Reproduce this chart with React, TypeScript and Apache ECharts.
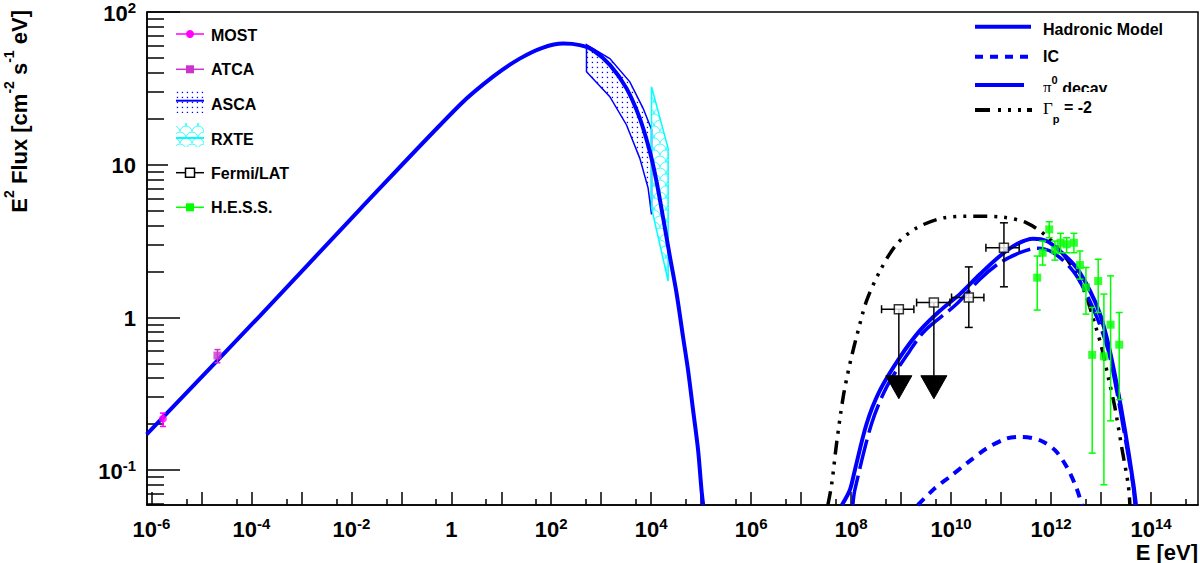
import React, { useEffect, useRef } from 'react';
import * as echarts from 'echarts';

// ---------------- axis ranges & ticks ----------------
const xMin = 8.17e-7;
const xMax = 8.7e14;
const yMin = 0.059;
const yMax = 100;

const xMajorTicks = [1e-6, 1e-5, 1e-4, 1e-3, 1e-2, 1e-1, 1, 10, 1e2, 1e3, 1e4, 1e5, 1e6, 1e7, 1e8, 1e9, 1e10, 1e11, 1e12, 1e13, 1e14];
const xLabelTicks = [1e-6, 1e-4, 1e-2, 1, 1e2, 1e4, 1e6, 1e8, 1e10, 1e12, 1e14];
const xMinorTicks = [5e-6, 5e-5, 5e-4, 5e-3, 5e-2, 5e-1, 5, 50, 5e2, 5e3, 5e4, 5e5, 5e6, 5e7, 5e8, 5e9, 5e10, 5e11, 5e12, 5e13, 5e14];
const yMajorTicks = [0.1, 1, 10, 100];
const yMinorTicks = [0.06, 0.07, 0.08, 0.09, 0.2, 0.3, 0.4, 0.5, 0.6, 0.7, 0.8, 0.9, 2, 3, 4, 5, 6, 7, 8, 9, 20, 30, 40, 50, 60, 70, 80, 90];

// ---------------- model curves ----------------
const synE = [8.05e-7, 1.47e-4, 1.47e-2, 1.48, 6.85, 23.4, 68.7, 173, 372, 687, 1503, 3206, 5916, 9376, 1.276e4, 1.73e4, 2.355e4, 3.206e4, 4.345e4, 5.47e4, 6.89e4, 8.67e4, 1.014e5, 1.096e5];
const synF = [0.171, 1.02, 5.08, 24.6, 37.7, 49.5, 58.5, 62.1, 60.7, 56.2, 44.9, 31.6, 20.1, 12.2, 7.78, 4.49, 2.52, 1.445, 0.74, 0.449, 0.246, 0.135, 0.074, 0.059];

const hadE = [6.52e7, 9.42e7, 1.186e8, 2.04e8, 3.76e8, 9.44e8, 2.37e9, 5.96e9, 1.5e10, 3.77e10, 9.46e10, 2.04e11, 4.4e11, 8.15e11, 1.503e12, 3.24e12, 6.0e12, 9.51e12, 1.393e13, 2.05e13, 3.01e13, 4.41e13, 4.99e13];
const hadF = [0.059, 0.074, 0.0998, 0.201, 0.332, 0.547, 0.818, 1.104, 1.419, 1.914, 2.52, 3.01, 3.27, 3.16, 2.72, 2.11, 1.493, 1.052, 0.67, 0.367, 0.182, 0.0818, 0.059];

const pi0E = [1.081e8, 1.186e8, 2.56e8, 5.12e8, 1.496e9, 2.99e9, 1.288e10, 3.77e10, 9.46e10, 2.38e11, 5.13e11, 1.104e12, 2.77e12, 5.14e12, 8.77e12, 1.393e13, 2.05e13, 3.01e13, 4.41e13, 4.79e13];
const pi0F = [0.059, 0.074, 0.201, 0.349, 0.605, 0.818, 1.222, 1.778, 2.28, 2.65, 2.83, 2.65, 2.01, 1.419, 0.951, 0.605, 0.332, 0.165, 0.0778, 0.059];

const icE = [2.16e9, 4.73e9, 9.44e9, 2.04e10, 5.13e10, 1.288e11, 2.57e11, 5.98e11, 1.194e12, 2.05e12, 3.24e12, 4.14e12];
const icF = [0.059, 0.0759, 0.0904, 0.1104, 0.1384, 0.1607, 0.1648, 0.1567, 0.1349, 0.105, 0.0759, 0.059];

const gamE = [3.42e7, 4.06e7, 5.11e7, 6.92e7, 9.42e7, 1.38e8, 2.04e8, 3.76e8, 8.11e8, 2.04e9, 6.95e9, 2.77e10, 1.102e11, 3.24e11, 8.15e11, 1.75e12, 3.24e12, 5.14e12, 7.53e12, 1.026e13, 1.39e13, 1.888e13, 2.58e13, 3.5e13, 3.78e13];
const gamF = [0.059, 0.0798, 0.149, 0.3, 0.495, 0.818, 1.285, 2.01, 3.01, 3.85, 4.48, 4.6, 4.53, 4.16, 3.4, 2.59, 1.91, 1.35, 0.904, 0.637, 0.406, 0.258, 0.1416, 0.0798, 0.059];

// ---------------- X-ray bands ----------------
const ascaUpE = [507, 1486, 3733, 6887, 1.014e4];
const ascaUpF = [61.2, 49.5, 34.9, 23.4, 17.0];
const ascaLoE = [507, 1486, 3206, 5916, 8670, 1.014e4];
const ascaLoF = [40.6, 27.9, 18.2, 11.0, 7.03, 4.72];

const rxteUpE = [1.014e4, 2.18e4];
const rxteUpF = [32.4, 12.8];
const rxteLoE = [1.014e4, 2.18e4];
const rxteLoF = [5.2, 1.73];

// ---------------- data points ----------------
const mostE = [1.7e-6];
const mostF = [0.217];
const mostLo = [0.193];
const mostHi = [0.236];

const atcaE = [2.1e-5];
const atcaF = [0.562];
const atcaLo = [0.504];
const atcaHi = [0.615];

const fermiE = [2.26e10, 1.14e11];
const fermiF = [1.35, 2.86];
const fermiElo = [1.02e10, 4.97e10];
const fermiEhi = [4.53e10, 2.3e11];
const fermiFlo = [0.859, 1.585];
const fermiFhi = [2.14, 4.16];

const fermiUlE = [9.0e8, 4.52e9];
const fermiUlF = [1.13, 1.25];
const fermiUlElo = [4.06e8, 2.04e9];
const fermiUlEhi = [1.8e9, 9.46e9];
const fermiUlTip = [0.293, 0.293];

const hessE = [5.28e11, 6.78e11, 9.18e11, 1.194e12, 1.552e12, 2.05e12, 2.86e12, 3.78e12, 4.98e12, 6.65e12, 8.77e12, 1.14e13, 1.552e13, 2.31e13];
const hessF = [1.82, 2.65, 3.77, 2.75, 3.08, 3.01, 3.08, 2.2, 1.57, 0.568, 1.73, 0.556, 0.895, 0.662];
const hessLo = [1.116, 2.2, 3.32, 2.37, 2.65, 2.65, 2.65, 1.78, 1.05, 0.129, 1.076, 0.08, 0.21, 0.289];
const hessHi = [2.52, 3.16, 4.23, 3.16, 3.55, 3.32, 3.55, 2.72, 2.12, 1.16, 2.4, 1.42, 1.87, 1.076];

// ---------------- styles ----------------
const FONT = 'Liberation Sans';
const BLUE = '#0000ff';
const MAGENTA = '#ff00ff';
const PURPLE = '#cc33cc';
const CYAN = '#00ffff';
const GREEN = '#00ff00';

const dotTile =
  'data:image/svg+xml;charset=utf-8,' +
  encodeURIComponent('<svg xmlns="http://www.w3.org/2000/svg" width="5" height="5"><rect x="1.8" y="1.8" width="1.3" height="1.3" fill="#0000ff"/></svg>');
const scaleTile =
  'data:image/svg+xml;charset=utf-8,' +
  encodeURIComponent('<svg xmlns="http://www.w3.org/2000/svg" width="12" height="12"><path d="M0,12 A6,6 0 0 1 12,12 M-6,6 A6,6 0 0 1 6,6 M6,6 A6,6 0 0 1 18,6" fill="none" stroke="#00ffff" stroke-width="0.8"/></svg>');
const dotPattern: any = { image: dotTile, repeat: 'repeat', imageWidth: 5, imageHeight: 5 };
const scalePattern: any = { image: scaleTile, repeat: 'repeat', imageWidth: 12, imageHeight: 12 };

const pair = (xs: number[], ys: number[]) => xs.map((x, i) => [x, ys[i]]);

const fmtPow = (v: number) => {
  const p = Math.round(Math.log10(v));
  if (p === 0) return '{b|1}';
  if (p === 1) return '{b|10}';
  return '{b|10}{s|' + p + '}';
};

const axisRich = {
  b: { fontSize: 22, fontWeight: 'bold', fontFamily: FONT, color: '#000', lineHeight: 24, verticalAlign: 'bottom' },
  s: { fontSize: 15, fontWeight: 'bold', fontFamily: FONT, color: '#000', lineHeight: 12, verticalAlign: 'top' },
};

const bandRender = (upE: number[], upF: number[], loE: number[], loF: number[], fill: any, stroke: string) =>
  (params: any, api: any) => {
    if (params.dataIndex !== 0) return { type: 'group', children: [] };
    const up = upE.map((e, i) => api.coord([e, upF[i]]));
    const lo = loE.map((e, i) => api.coord([e, loF[i]])).reverse();
    return {
      type: 'polygon',
      shape: { points: up.concat(lo) },
      style: { fill, stroke, lineWidth: 1.5 },
    };
  };

const vErrRender = (color: string, cap: number) => (params: any, api: any) => {
  const e = api.value(0);
  const lo = api.coord([e, api.value(2)]);
  const hi = api.coord([e, api.value(3)]);
  const st = { stroke: color, lineWidth: 1.5, fill: 'none' };
  return {
    type: 'group',
    children: [
      { type: 'line', shape: { x1: lo[0], y1: lo[1], x2: hi[0], y2: hi[1] }, style: st },
      { type: 'line', shape: { x1: lo[0] - cap, y1: lo[1], x2: lo[0] + cap, y2: lo[1] }, style: st },
      { type: 'line', shape: { x1: hi[0] - cap, y1: hi[1], x2: hi[0] + cap, y2: hi[1] }, style: st },
    ],
  };
};

const xErrChildren = (api: any, f: number, elo: number, ehi: number, cap: number, st: any) => {
  const a = api.coord([elo, f]);
  const b = api.coord([ehi, f]);
  return [
    { type: 'line', shape: { x1: a[0], y1: a[1], x2: b[0], y2: b[1] }, style: st },
    { type: 'line', shape: { x1: a[0], y1: a[1] - cap, x2: a[0], y2: a[1] + cap }, style: st },
    { type: 'line', shape: { x1: b[0], y1: b[1] - cap, x2: b[0], y2: b[1] + cap }, style: st },
  ];
};

const fermiRender = (params: any, api: any) => {
  const e = api.value(0);
  const f = api.value(1);
  const st = { stroke: '#000', lineWidth: 1.5, fill: 'none' };
  const lo = api.coord([e, api.value(4)]);
  const hi = api.coord([e, api.value(5)]);
  return {
    type: 'group',
    children: [
      ...xErrChildren(api, f, api.value(2), api.value(3), 4, st),
      { type: 'line', shape: { x1: lo[0], y1: lo[1], x2: hi[0], y2: hi[1] }, style: st },
      { type: 'line', shape: { x1: lo[0] - 4, y1: lo[1], x2: lo[0] + 4, y2: lo[1] }, style: st },
      { type: 'line', shape: { x1: hi[0] - 4, y1: hi[1], x2: hi[0] + 4, y2: hi[1] }, style: st },
    ],
  };
};

const fermiUlRender = (params: any, api: any) => {
  const e = api.value(0);
  const f = api.value(1);
  const st = { stroke: '#000', lineWidth: 1.5, fill: 'none' };
  const c = api.coord([e, f]);
  const tip = api.coord([e, api.value(4)]);
  const headH = 23;
  const headW = 13;
  return {
    type: 'group',
    children: [
      ...xErrChildren(api, f, api.value(2), api.value(3), 4, st),
      { type: 'line', shape: { x1: c[0], y1: c[1], x2: tip[0], y2: tip[1] - headH }, style: st },
      {
        type: 'polygon',
        shape: { points: [[tip[0] - headW, tip[1] - headH], [tip[0] + headW, tip[1] - headH], [tip[0], tip[1]]] },
        style: { fill: '#000', stroke: '#000', lineWidth: 1 },
      },
    ],
  };
};

// ---------------- legend (graphic) ----------------
const legendRich: any = {
  a: { fontSize: 16, fontWeight: 'bold', fontFamily: FONT, fill: '#000', lineHeight: 22, verticalAlign: 'bottom' },
  g: { fontSize: 17, fontFamily: 'Liberation Serif', fill: '#000', lineHeight: 22, verticalAlign: 'bottom' },
  s: { fontSize: 11, fontWeight: 'bold', fontFamily: FONT, fill: '#000', lineHeight: 12, verticalAlign: 'top' },
  ta: { fontSize: 16, fontWeight: 'bold', fontFamily: FONT, fill: '#000', lineHeight: 16, verticalAlign: 'top' },
  tg: { fontSize: 17, fontFamily: 'Liberation Serif', fill: '#000', lineHeight: 16, verticalAlign: 'top' },
  sub: { fontSize: 11, fontWeight: 'bold', fontFamily: FONT, fill: '#000', lineHeight: 25, verticalAlign: 'bottom' },
};

const legText = (x: number, y: number, text: string, rich = false) => ({
  type: 'text',
  x,
  y,
  z: 120,
  style: rich
    ? { text, align: 'left', verticalAlign: 'middle', rich: legendRich }
    : { text, align: 'left', verticalAlign: 'middle', fontSize: 16, fontWeight: 'bold', fontFamily: FONT, fill: '#000' },
});
const legLine = (x1: number, x2: number, y: number, stroke: string, lineWidth: number, lineDash?: number[]) => ({
  type: 'line',
  z: 120,
  shape: { x1, y1: y, x2, y2: y },
  style: { stroke, lineWidth, lineDash: lineDash || null },
});

const graphicEls: any[] = [
  // white legend box (covers the long ticks like the original)
  { type: 'rect', z: 110, shape: { x: 168, y: 14, width: 140, height: 209 }, style: { fill: '#fff' } },
  // left legend
  legLine(176, 204, 34, MAGENTA, 1.5),
  { type: 'circle', z: 121, shape: { cx: 190, cy: 34, r: 4 }, style: { fill: MAGENTA } },
  legText(211, 35, 'MOST'),
  legLine(176, 204, 69.3, PURPLE, 1.5),
  { type: 'rect', z: 121, shape: { x: 186, y: 65.3, width: 8, height: 8 }, style: { fill: PURPLE } },
  legText(211, 69.5, 'ATCA'),
  { type: 'rect', z: 120, shape: { x: 176, y: 90, width: 28, height: 23 }, style: { fill: dotPattern } },
  legLine(176, 204, 100.7, BLUE, 2),
  legText(211, 104, 'ASCA'),
  { type: 'rect', z: 120, shape: { x: 176, y: 123, width: 28, height: 24 }, style: { fill: scalePattern } },
  legLine(176, 204, 138, CYAN, 2),
  legText(211, 139, 'RXTE'),
  legLine(176, 204, 172.7, '#000', 1.5),
  { type: 'rect', z: 121, shape: { x: 185.5, y: 168.2, width: 9, height: 9 }, style: { fill: '#fff', stroke: '#000', lineWidth: 1.5 } },
  legText(211, 173, 'Fermi/LAT'),
  legLine(176, 204, 207.3, GREEN, 1.5),
  { type: 'rect', z: 121, shape: { x: 186, y: 203.3, width: 8, height: 8 }, style: { fill: GREEN } },
  legText(211, 207.5, 'H.E.S.S.'),
  // right legend
  legLine(975, 1031, 26.7, BLUE, 4),
  legText(1043, 29, 'Hadronic Model'),
  legLine(975, 1031, 56.7, BLUE, 4, [8, 7]),
  legText(1043, 56.7, 'IC'),
  legLine(975, 1024, 85, BLUE, 4),
  legText(1043, 85, '{g|π}{s|0}{a| decay}', true),
  { type: 'rect', z: 125, shape: { x: 960, y: 92, width: 236, height: 36 }, style: { fill: '#fff' } },
  { ...legLine(975, 1032, 110, '#000', 4, [15, 8, 3, 7, 3, 7, 3, 6]), z: 126 },
  { ...legText(1043, 112, '{tg|Γ}{sub|p}{ta| = -2}', true), z: 126 },
  // axis titles
  {
    type: 'text',
    x: 16,
    y: 10,
    rotation: Math.PI / 2,
    z: 120,
    style: {
      text: '{b|E}{s|2}{b| Flux [cm}{s|-2}{b| s}{s|-1}{b| eV]}',
      align: 'right',
      verticalAlign: 'middle',
      rich: {
        b: { fontSize: 22, fontWeight: 'bold', fontFamily: FONT, fill: '#000', lineHeight: 28, verticalAlign: 'bottom' },
        s: { fontSize: 14, fontWeight: 'bold', fontFamily: FONT, fill: '#000', lineHeight: 16, verticalAlign: 'top' },
      },
    },
  },
  {
    type: 'text',
    x: 1198,
    y: 552,
    z: 120,
    style: { text: 'E [eV]', align: 'right', verticalAlign: 'middle', fontSize: 22, lineHeight: 20, fontWeight: 'bold', fontFamily: FONT, fill: '#000' },
  },
];

const option: any = {
  animation: false,
  backgroundColor: '#fff',
  textStyle: { fontFamily: FONT },
  grid: { left: 147, top: 10, width: 1051, height: 495, show: true, borderColor: '#000', borderWidth: 1.5, backgroundColor: 'transparent' },
  xAxis: [
    {
      type: 'log',
      logBase: 10,
      min: xMin,
      max: xMax,
      position: 'bottom',
      axisLine: { show: true, lineStyle: { color: '#000', width: 1.5 } },
      axisTick: { show: true, inside: true, length: 13, lineStyle: { color: '#000', width: 1.5 }, customValues: xMajorTicks },
      axisLabel: { show: true, margin: 11, customValues: xLabelTicks, formatter: fmtPow, rich: axisRich },
      splitLine: { show: false },
      minorTick: { show: false },
    },
    {
      type: 'log',
      logBase: 10,
      min: xMin,
      max: xMax,
      position: 'bottom',
      axisLine: { show: false },
      axisTick: { show: true, inside: true, length: 6, lineStyle: { color: '#000', width: 1.5 }, customValues: xMinorTicks },
      axisLabel: { show: false },
      splitLine: { show: false },
    },
  ],
  yAxis: [
    {
      type: 'log',
      logBase: 10,
      min: yMin,
      max: yMax,
      position: 'left',
      axisLine: { show: true, lineStyle: { color: '#000', width: 1.5 } },
      axisTick: { show: true, inside: true, length: 33, lineStyle: { color: '#000', width: 1.5 }, customValues: yMajorTicks },
      axisLabel: { show: true, margin: 11, customValues: yMajorTicks, formatter: fmtPow, rich: axisRich },
      splitLine: { show: false },
    },
    {
      type: 'log',
      logBase: 10,
      min: yMin,
      max: yMax,
      position: 'left',
      axisLine: { show: false },
      axisTick: { show: true, inside: true, length: 17, lineStyle: { color: '#000', width: 1.5 }, customValues: yMinorTicks },
      axisLabel: { show: false },
      splitLine: { show: false },
    },
  ],
  graphic: { elements: graphicEls },
  series: [
    {
      type: 'custom',
      name: 'ASCA',
      silent: true,
      clip: true,
      z: 1,
      encode: { x: 0, y: 1 },
      data: pair(ascaUpE, ascaUpF),
      renderItem: bandRender(ascaUpE, ascaUpF, ascaLoE, ascaLoF, dotPattern, BLUE),
    },
    {
      type: 'custom',
      name: 'RXTE',
      silent: true,
      clip: true,
      z: 1,
      encode: { x: 0, y: 1 },
      data: pair(rxteUpE, rxteUpF),
      renderItem: bandRender(rxteUpE, rxteUpF, rxteLoE, rxteLoF, scalePattern, CYAN),
    },
    {
      type: 'line',
      name: 'Synchrotron',
      data: pair(synE, synF),
      showSymbol: false,
      symbol: 'none',
      smooth: 0.3,
      clip: true,
      silent: true,
      z: 3,
      lineStyle: { color: BLUE, width: 4 },
    },
    {
      type: 'line',
      name: 'Γp = -2',
      data: pair(gamE, gamF),
      symbol: 'none',
      smooth: 0.3,
      clip: true,
      silent: true,
      z: 3,
      lineStyle: { color: '#000', width: 3.5, type: [14, 7, 3, 7, 3, 7, 3, 7] },
    },
    {
      type: 'line',
      name: 'π0 decay',
      data: pair(pi0E, pi0F),
      symbol: 'none',
      smooth: 0.3,
      clip: true,
      silent: true,
      z: 3,
      lineStyle: { color: BLUE, width: 3.5, type: [30, 7] },
    },
    {
      type: 'line',
      name: 'Hadronic Model',
      data: pair(hadE, hadF),
      symbol: 'none',
      smooth: 0.3,
      clip: true,
      silent: true,
      z: 3,
      lineStyle: { color: BLUE, width: 4 },
    },
    {
      type: 'line',
      name: 'IC',
      data: pair(icE, icF),
      symbol: 'none',
      smooth: 0.3,
      clip: true,
      silent: true,
      z: 3,
      lineStyle: { color: BLUE, width: 4, type: [9, 7] },
    },
    // MOST
    {
      type: 'custom',
      silent: true,
      z: 4,
      encode: { x: 0, y: 1 },
      data: mostE.map((e, i) => [e, mostF[i], mostLo[i], mostHi[i]]),
      renderItem: vErrRender(MAGENTA, 3),
    },
    {
      type: 'scatter',
      name: 'MOST',
      silent: true,
      z: 5,
      symbol: 'circle',
      symbolSize: 8,
      itemStyle: { color: MAGENTA },
      data: pair(mostE, mostF),
    },
    // ATCA
    {
      type: 'custom',
      silent: true,
      z: 4,
      encode: { x: 0, y: 1 },
      data: atcaE.map((e, i) => [e, atcaF[i], atcaLo[i], atcaHi[i]]),
      renderItem: vErrRender(PURPLE, 3),
    },
    {
      type: 'scatter',
      name: 'ATCA',
      silent: true,
      z: 5,
      symbol: 'rect',
      symbolSize: 8,
      itemStyle: { color: PURPLE },
      data: pair(atcaE, atcaF),
    },
    // H.E.S.S.
    {
      type: 'custom',
      silent: true,
      clip: true,
      z: 4,
      encode: { x: 0, y: 1 },
      data: hessE.map((e, i) => [e, hessF[i], hessLo[i], hessHi[i]]),
      renderItem: vErrRender(GREEN, 3.5),
    },
    {
      type: 'scatter',
      name: 'H.E.S.S.',
      silent: true,
      z: 5,
      symbol: 'rect',
      symbolSize: 8,
      itemStyle: { color: GREEN },
      data: pair(hessE, hessF),
    },
    // Fermi/LAT
    {
      type: 'custom',
      silent: true,
      z: 4,
      encode: { x: 0, y: 1 },
      data: fermiE.map((e, i) => [e, fermiF[i], fermiElo[i], fermiEhi[i], fermiFlo[i], fermiFhi[i]]),
      renderItem: fermiRender,
    },
    {
      type: 'custom',
      silent: true,
      z: 4,
      encode: { x: 0, y: 1 },
      data: fermiUlE.map((e, i) => [e, fermiUlF[i], fermiUlElo[i], fermiUlEhi[i], fermiUlTip[i]]),
      renderItem: fermiUlRender,
    },
    {
      type: 'scatter',
      name: 'Fermi/LAT',
      silent: true,
      z: 5,
      symbol: 'rect',
      symbolSize: 9,
      itemStyle: { color: '#fff', borderColor: '#000', borderWidth: 1.5 },
      data: pair(fermiE.concat(fermiUlE), fermiF.concat(fermiUlF)),
    },
  ],
};

export default function App() {
  const ref = useRef<HTMLDivElement>(null);
  useEffect(() => {
    if (!ref.current) return;
    const chart = echarts.init(ref.current, null, { renderer: 'svg' });
    chart.setOption(option);
    return () => chart.dispose();
  }, []);
  return (
    <div
      ref={ref}
      style={{ position: 'fixed', left: 0, top: 0, width: 1200, height: 563, background: '#fff' }}
    />
  );
}
